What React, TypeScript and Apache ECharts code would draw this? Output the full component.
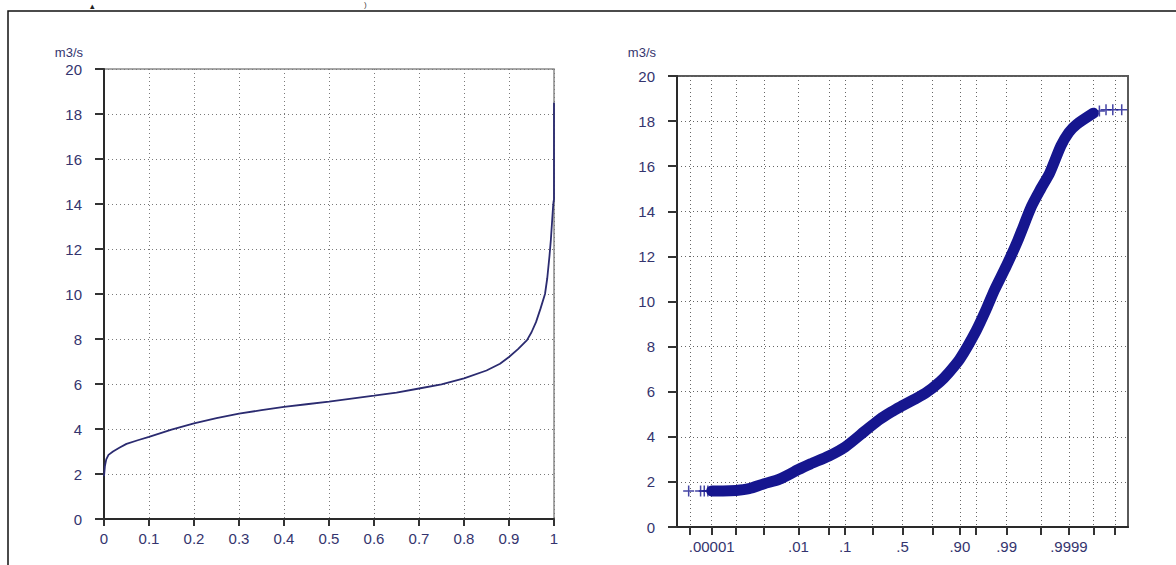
import React, { useEffect, useRef } from "react";
import * as echarts from "echarts";

// ---------- data ----------
// Left chart: flow duration curve (fraction of time vs discharge)
const durationX = [0, 0.002, 0.005, 0.01, 0.02, 0.035, 0.05, 0.075, 0.1, 0.15, 0.2, 0.25, 0.3, 0.35, 0.4, 0.45, 0.5, 0.55, 0.6, 0.65, 0.7, 0.75, 0.8, 0.85, 0.88, 0.9, 0.92, 0.94, 0.95, 0.96, 0.97, 0.98, 0.985, 0.99, 0.993, 0.996, 0.998, 0.999, 1.0, 1.0];
const durationQ = [1.9, 2.35, 2.65, 2.85, 3.0, 3.18, 3.34, 3.5, 3.65, 3.97, 4.25, 4.48, 4.68, 4.84, 4.98, 5.1, 5.22, 5.35, 5.48, 5.62, 5.8, 5.98, 6.25, 6.6, 6.9, 7.2, 7.55, 7.95, 8.3, 8.75, 9.35, 10.0, 10.7, 11.7, 12.4, 13.3, 13.9, 14.1, 14.2, 18.5];

// Right chart: discharge on a normal probability axis
const bandP = [0.00001, 0.00003, 0.0001, 0.0003, 0.001, 0.003, 0.01, 0.02, 0.05, 0.1, 0.2, 0.3, 0.4, 0.5, 0.6, 0.7, 0.8, 0.85, 0.9, 0.95, 0.97, 0.98, 0.99, 0.995, 0.998, 0.999, 0.9995, 0.9998, 0.9999, 0.99995, 0.99999];
const bandQ = [1.6, 1.6, 1.62, 1.7, 1.92, 2.12, 2.55, 2.8, 3.15, 3.55, 4.25, 4.75, 5.1, 5.38, 5.65, 5.95, 6.45, 6.85, 7.45, 8.7, 9.7, 10.5, 11.6, 12.7, 14.2, 15.0, 15.7, 16.9, 17.5, 17.85, 18.35];
const lowTailP = [0.00000088, 0.0000032, 0.0000047, 0.0000068];
const lowTailQ = [1.6, 1.6, 1.6, 1.6];
const highTailP = [0.9999946, 0.9999973, 0.9999987, 0.99999952];
const highTailQ = [18.45, 18.5, 18.5, 18.5];

// Probability axis ticks and labels
const probTickP = [0.000001, 0.00001, 0.0001, 0.001, 0.01, 0.05, 0.1, 0.25, 0.5, 0.75, 0.9, 0.95, 0.99, 0.999, 0.9999, 0.99999, 0.999999];
const probLabelP = [0.00001, 0.01, 0.1, 0.5, 0.9, 0.99, 0.9999];
const probLabelText = [".00001", ".01", ".1", ".5", ".90", ".99", ".9999"];
const durationTickLabels = ["0", "0.1", "0.2", "0.3", "0.4", "0.5", "0.6", "0.7", "0.8", "0.9", "1"];
const yName = "m3/s";

// inverse standard normal CDF (Acklam)
function normInv(p: number): number {
  const a = [-3.969683028665376e1, 2.209460984245205e2, -2.759285104469687e2, 1.38357751867269e2, -3.066479806614716e1, 2.506628277459239];
  const b = [-5.447609879822406e1, 1.615858368580409e2, -1.556989798598866e2, 6.680131188771972e1, -1.328068155288572e1];
  const c = [-7.784894002430293e-3, -3.223964580411365e-1, -2.400758277161838, -2.549732539343734, 4.374664141464968, 2.938163982698783];
  const d = [7.784695709041462e-3, 3.224671290700398e-1, 2.445134137142996, 3.754408661907416];
  const pl = 0.02425;
  if (p < pl) {
    const q = Math.sqrt(-2 * Math.log(p));
    return (((((c[0] * q + c[1]) * q + c[2]) * q + c[3]) * q + c[4]) * q + c[5]) / ((((d[0] * q + d[1]) * q + d[2]) * q + d[3]) * q + 1);
  }
  if (p > 1 - pl) {
    const q = Math.sqrt(-2 * Math.log(1 - p));
    return -(((((c[0] * q + c[1]) * q + c[2]) * q + c[3]) * q + c[4]) * q + c[5]) / ((((d[0] * q + d[1]) * q + d[2]) * q + d[3]) * q + 1);
  }
  const q = p - 0.5;
  const r = q * q;
  return ((((((a[0] * r + a[1]) * r + a[2]) * r + a[3]) * r + a[4]) * r + a[5]) * q) / (((((b[0] * r + b[1]) * r + b[2]) * r + b[3]) * r + b[4]) * r + 1);
}

const FONT = "Liberation Sans";
const LABEL_COLOR = "#34346e";
const FS = 15;

export default function App() {
  const ref = useRef<HTMLDivElement>(null);
  useEffect(() => {
    if (!ref.current) return;
    const chart = echarts.init(ref.current, undefined, { renderer: "svg" });
    const labelZ = probLabelP.map(normInv);
    const tickZ = probTickP.map(normInv);
    const gridDot = { type: [1, 3] as any, width: 1 };
    const yAxisCommon = (color: string, nameGap: number) => ({
      type: "value",
      min: 0,
      max: 20,
      interval: 2,
      name: yName,
      nameLocation: "end",
      nameGap,
      nameTextStyle: { fontFamily: FONT, fontSize: 13, color: LABEL_COLOR, align: "right", padding: [0, 21, 0, 0] },
      axisLine: { show: true, onZero: false, lineStyle: { color: "#2a2a2a", width: 2 } },
      axisTick: { show: true, inside: false, length: 9, lineStyle: { color: "#333", width: 2 } },
      axisLabel: { fontFamily: FONT, fontSize: FS, color: LABEL_COLOR, margin: 22 },
      splitLine: { show: true, lineStyle: { ...gridDot, color } },
    });
    chart.setOption({
      animation: false,
      backgroundColor: "#fff",
      graphic: [
        { type: "rect", silent: true, z: -10, shape: { x: 8, y: 11, width: 1200, height: 600 }, style: { fill: "none", stroke: "#111", lineWidth: 1.5 } },
        { type: "text", silent: true, x: 364, y: 0, style: { text: ")", fontSize: 8, fill: "#444", fontFamily: FONT } },
        { type: "text", silent: true, x: 90, y: 1, style: { text: "▴", fontSize: 9, fill: "#222", fontFamily: FONT } },
      ],
      grid: [
        { left: 104, top: 69, width: 450, height: 450, show: true, borderColor: "#8a8a8a", borderWidth: 1.5, backgroundColor: "transparent" },
        { left: 677, top: 76, width: 451, height: 451, show: true, borderColor: "#5a5a5a", borderWidth: 2, backgroundColor: "transparent" },
      ],
      xAxis: [
        {
          gridIndex: 0,
          type: "value",
          min: 0,
          max: 1,
          interval: 0.1,
          axisLine: { show: true, onZero: false, lineStyle: { color: "#2a2a2a", width: 2 } },
          axisTick: { show: true, inside: false, length: 7, lineStyle: { color: "#333", width: 2 } },
          axisLabel: {
            fontFamily: FONT,
            fontSize: FS,
            color: LABEL_COLOR,
            margin: 12,
            formatter: (v: number) => durationTickLabels[Math.round(v * 10)] ?? String(v),
          },
          splitLine: { show: true, lineStyle: { ...gridDot, color: "#7a7a7a" } },
        },
        {
          gridIndex: 1,
          type: "value",
          min: -5.04,
          max: 5.04,
          axisLine: { show: true, onZero: false, lineStyle: { color: "#2a2a2a", width: 2 } },
          axisTick: { show: true, inside: false, length: 8, customValues: tickZ, lineStyle: { color: "#333", width: 2 } },
          axisLabel: {
            fontFamily: FONT,
            fontSize: FS,
            color: LABEL_COLOR,
            margin: 12,
            customValues: labelZ,
            formatter: (v: number) => {
              let best = 0;
              for (let i = 1; i < labelZ.length; i++) if (Math.abs(labelZ[i] - v) < Math.abs(labelZ[best] - v)) best = i;
              return probLabelText[best];
            },
          },
          splitLine: { show: true, lineStyle: { ...gridDot, color: "#666" } },
        },
      ],
      yAxis: [
        { gridIndex: 0, ...yAxisCommon("#7a7a7a", 10) },
        { gridIndex: 1, ...yAxisCommon("#666", 17) },
      ],
      series: [
        {
          type: "line",
          xAxisIndex: 0,
          yAxisIndex: 0,
          data: durationX.map((x, i) => [x, durationQ[i]]),
          showSymbol: false,
          symbol: "none",
          lineStyle: { color: "#2b2b70", width: 1.8 },
          z: 5,
        },
        {
          type: "line",
          xAxisIndex: 1,
          yAxisIndex: 1,
          data: bandP.map((p, i) => [normInv(p), bandQ[i]]),
          showSymbol: false,
          symbol: "none",
          smooth: 0.25,
          lineStyle: { color: "#16168f", width: 11, cap: "round", join: "round" },
          z: 5,
        },
        {
          type: "scatter",
          xAxisIndex: 1,
          yAxisIndex: 1,
          data: [...lowTailP.map((p, i) => [normInv(p), lowTailQ[i]]), ...highTailP.map((p, i) => [normInv(p), highTailQ[i]])],
          symbol: "path://M0,5H10M5,0V10",
          symbolSize: 11,
          itemStyle: { color: "none", borderColor: "#16168f", borderWidth: 1.5 },
          z: 6,
        },
      ],
    });
    return () => chart.dispose();
  }, []);
  return <div ref={ref} style={{ position: "fixed", left: 0, top: 0, width: 1176, height: 565, background: "#fff" }} />;
}
